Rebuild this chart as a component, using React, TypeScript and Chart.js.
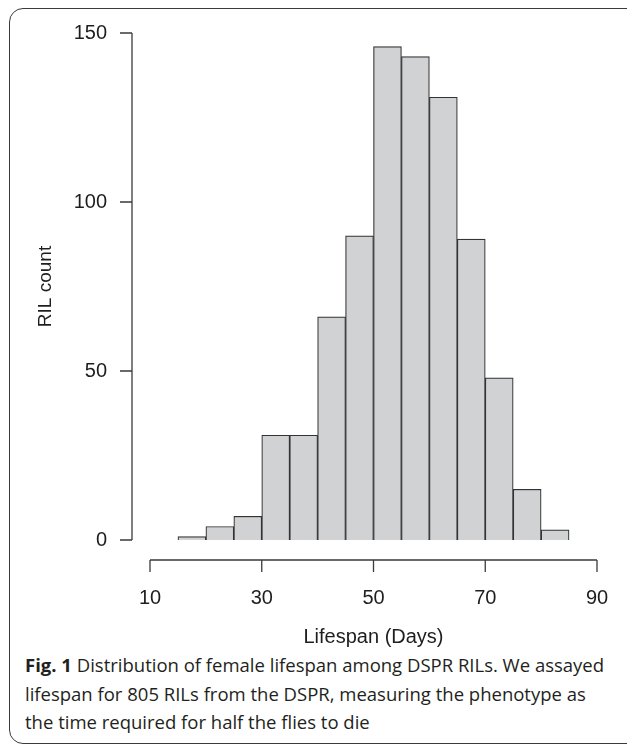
import React, { useEffect, useRef } from "react";
import { Chart, registerables } from "chart.js";

Chart.register(...registerables);

// Histogram bins (days) and RIL counts per bin
const binEdges = [15, 20, 25, 30, 35, 40, 45, 50, 55, 60, 65, 70, 75, 80, 85];
const counts = [1, 4, 7, 31, 31, 66, 90, 146, 143, 131, 89, 48, 15, 3];
const xTicks = [10, 30, 50, 70, 90];
const yTicks = [0, 50, 100, 150];
const xTitle = "Lifespan (Days)";
const yTitle = "RIL count";
const captionBold = "Fig. 1";
const captionLines = [
  " Distribution of female lifespan among DSPR RILs. We assayed",
  "lifespan for 805 RILs from the DSPR, measuring the phenotype as",
  "the time required for half the flies to die",
];

const AXIS_COLOR = "#3a3a3a";
const TEXT_COLOR = "#1e1e1e";
const FONT = "'Liberation Sans', Arial, Helvetica, sans-serif";

const rAxesPlugin = {
  id: "rAxes",
  afterDraw(chart: any) {
    const { ctx, chartArea, scales } = chart;
    const xs = scales.x;
    const ys = scales.y;
    ctx.save();
    ctx.strokeStyle = AXIS_COLOR;
    ctx.lineWidth = 1.3;
    ctx.lineCap = "butt";
    // x axis (detached below plot)
    const ay = chartArea.bottom + 20;
    const tick = 12;
    const xa = xs.getPixelForValue(xTicks[0]);
    const xb = xs.getPixelForValue(xTicks[xTicks.length - 1]);
    ctx.beginPath();
    ctx.moveTo(xa, ay);
    ctx.lineTo(xb, ay);
    xTicks.forEach((v) => {
      const px = xs.getPixelForValue(v);
      ctx.moveTo(px, ay);
      ctx.lineTo(px, ay + tick);
    });
    ctx.stroke();
    // y axis (detached left of plot)
    const ax = chartArea.left - 18;
    const ya = ys.getPixelForValue(yTicks[0]);
    const yb = ys.getPixelForValue(yTicks[yTicks.length - 1]);
    ctx.beginPath();
    ctx.moveTo(ax, ya);
    ctx.lineTo(ax, yb);
    yTicks.forEach((v) => {
      const py = ys.getPixelForValue(v);
      ctx.moveTo(ax, py);
      ctx.lineTo(ax - tick, py);
    });
    ctx.stroke();
    ctx.restore();
  },
};

function HistChart() {
  const ref = useRef<HTMLCanvasElement | null>(null);
  useEffect(() => {
    if (!ref.current) return;
    const data = counts.map((c, i) => ({
      x: (binEdges[i] + binEdges[i + 1]) / 2,
      y: c,
    }));
    const chart = new Chart(ref.current, {
      type: "bar",
      data: {
        datasets: [
          {
            data: data as any,
            backgroundColor: "#d1d2d4",
            borderColor: "#333333",
            borderWidth: 1.2,
            barPercentage: 1,
            categoryPercentage: 1,
          },
        ],
      },
      plugins: [rAxesPlugin],
      options: {
        animation: false,
        responsive: false,
        devicePixelRatio: 1,
        layout: { padding: { left: 0, right: 30, top: 33, bottom: 0 } },
        plugins: {
          legend: { display: false },
          tooltip: { enabled: false },
        },
        scales: {
          x: {
            type: "linear",
            min: 10,
            max: 90,
            offset: false,
            border: { display: false },
            grid: { display: false, drawTicks: false },
            afterBuildTicks: (s: any) => {
              s.ticks = xTicks.map((v) => ({ value: v }));
            },
            afterFit: (s: any) => {
              s.height = 110;
              s.paddingLeft = 0;
              s.paddingRight = 0;
            },
            ticks: {
              padding: 46,
              maxRotation: 0,
              autoSkip: false,
              color: TEXT_COLOR,
              font: { family: FONT, size: 20 },
            },
            title: {
              display: true,
              text: xTitle,
              color: TEXT_COLOR,
              font: { family: FONT, size: 20 },
              padding: { top: 0, bottom: 1 },
            },
          },
          y: {
            min: 0,
            max: 150,
            border: { display: false },
            grid: { display: false, drawTicks: false },
            afterBuildTicks: (s: any) => {
              s.ticks = yTicks.map((v) => ({ value: v }));
            },
            afterFit: (s: any) => {
              s.width = 150;
              s.paddingTop = 0;
              s.paddingBottom = 0;
            },
            ticks: {
              padding: 43,
              autoSkip: false,
              color: TEXT_COLOR,
              font: { family: FONT, size: 20 },
            },
            title: {
              display: true,
              text: yTitle,
              color: TEXT_COLOR,
              font: { family: FONT, size: 19 },
              padding: { top: 34, bottom: 0 },
            },
          },
        },
      },
    } as any);
    return () => chart.destroy();
  }, []);
  return (
    <canvas
      ref={ref}
      width={627}
      height={650}
      style={{ position: "absolute", left: 0, top: 0, width: 627, height: 650 }}
    />
  );
}

export default function App() {
  return (
    <div
      style={{
        position: "absolute",
        left: 0,
        top: 0,
        width: 627,
        height: 747,
        overflow: "hidden",
        background: "#ffffff",
      }}
    >
      <div
        style={{
          position: "absolute",
          left: 9,
          top: 8,
          width: 650,
          height: 736,
          border: `1.5px solid ${AXIS_COLOR}`,
          borderRadius: 14,
          boxSizing: "border-box",
        }}
      />
      <HistChart />
      <div
        style={{
          position: "absolute",
          left: 25,
          top: 651,
          fontFamily: "'Open Sans', 'Noto Sans', sans-serif",
          fontSize: 18.5,
          lineHeight: "28.5px",
          color: "#231f20",
          whiteSpace: "nowrap",
        }}
      >
        <b>{captionBold}</b>
        {captionLines[0]}
        <br />
        {captionLines[1]}
        <br />
        {captionLines[2]}
      </div>
    </div>
  );
}
